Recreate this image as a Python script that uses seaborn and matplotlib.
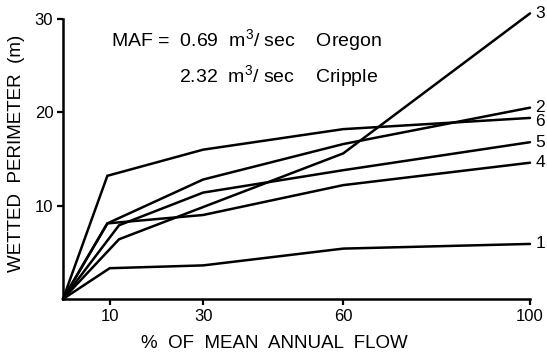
import matplotlib
matplotlib.use("Agg")
import matplotlib.pyplot as plt
import seaborn as sns
import pandas as pd

# Wetted perimeter (m) against percent of mean annual flow, six transects
site_labels = ["1", "2", "3", "4", "5", "6"]
flow_1 = [0, 10, 30, 60, 100]
perim_1 = [0, 3.3, 3.6, 5.4, 5.9]
flow_2 = [0, 9.5, 30, 60, 100]
perim_2 = [0, 8.1, 12.8, 16.6, 20.5]
flow_3 = [0, 12, 60, 100]
perim_3 = [0, 6.4, 15.6, 30.6]
flow_4 = [0, 9.5, 30, 60, 100]
perim_4 = [0, 8.1, 9.0, 12.2, 14.6]
flow_5 = [0, 12, 30, 60, 100]
perim_5 = [0, 7.9, 11.4, 13.8, 16.8]
flow_6 = [0, 9.5, 30, 60, 100]
perim_6 = [0, 13.2, 16.0, 18.2, 19.4]

x_ticks = [10, 30, 60, 100]
y_ticks = [10, 20, 30]

flows = [flow_1, flow_2, flow_3, flow_4, flow_5, flow_6]
perims = [perim_1, perim_2, perim_3, perim_4, perim_5, perim_6]

rows = []
for lab, xs, ys in zip(site_labels, flows, perims):
    for xv, yv in zip(xs, ys):
        rows.append({"site": lab, "flow": xv, "perimeter": yv})
df = pd.DataFrame(rows)

sns.set_style("ticks")
plt.rcParams["font.family"] = ["Liberation Sans", "DejaVu Sans"]
plt.rcParams["text.color"] = "black"
plt.rcParams["axes.labelcolor"] = "black"
plt.rcParams["mathtext.fontset"] = "custom"
plt.rcParams["mathtext.rm"] = "Liberation Sans"
plt.rcParams["mathtext.it"] = "Liberation Sans"
plt.rcParams["mathtext.default"] = "rm"

fig = plt.figure(figsize=(5.47, 3.56), dpi=100)
ax = fig.add_axes([63 / 547, 57 / 356, 467 / 547, 280 / 356])

sns.lineplot(data=df, x="flow", y="perimeter", units="site", estimator=None,
             sort=False, color="black", linewidth=1.8, ax=ax)
for ln in ax.lines:
    ln.set_clip_on(False)
    ln.set_solid_joinstyle("miter")

ax.set_xlim(0, 100)
ax.set_ylim(0, 30)
ax.set_xticks(x_ticks)
ax.set_yticks(y_ticks)
ax.tick_params(axis="both", direction="out", length=4, width=1.6,
               labelsize=12, color="black", labelcolor="black", pad=3)
for side in ["left", "bottom"]:
    ax.spines[side].set_linewidth(1.8)
    ax.spines[side].set_color("black")
sns.despine(ax=ax)

ax.set_xlabel("")
ax.set_ylabel("")
fig.text(274 / 547, 1 - 343 / 356, "%  OF  MEAN  ANNUAL  FLOW", ha="center",
         va="center", fontsize=13.5)
fig.text(17 / 547, 1 - 153 / 356, "WETTED  PERIMETER  (m)", ha="center",
         va="center", rotation=90, fontsize=13.5)

# End-of-line site numbers
label_y = {"1": 5.9, "2": 20.5, "3": 30.6, "4": 14.6, "5": 16.8, "6": 19.0}
for lab in site_labels:
    ax.annotate(lab, xy=(100, label_y[lab]), xytext=(4, 0),
                textcoords="offset points", ha="left", va="center",
                fontsize=12.5, annotation_clip=False)

ax.text(10.2, 27.7, "MAF =  0.69  m$^{3}$/ sec    Oregon", fontsize=14,
        ha="left", va="center")
ax.text(24.8, 23.9, "2.32  m$^{3}$/ sec    Cripple", fontsize=14,
        ha="left", va="center")

fig.savefig("out.png", dpi=100, facecolor="white")
